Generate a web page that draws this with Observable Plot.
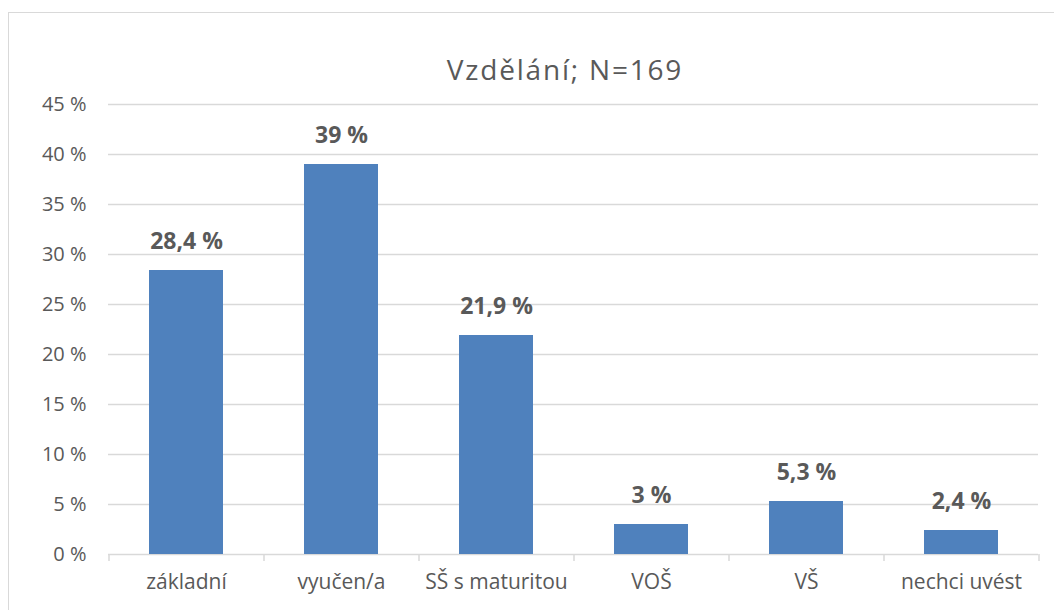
<!DOCTYPE html>
<html>
<head>
<meta charset="utf-8">
<script src="https://cdn.jsdelivr.net/npm/d3@7"></script>
<script src="https://cdn.jsdelivr.net/npm/@observablehq/plot@0.6"></script>
<style>
  html, body { margin: 0; padding: 0; background: #fff; }
  body { width: 1054px; height: 610px; position: relative; overflow: hidden; font-family: "Open Sans", Lato, sans-serif; }
  #frame { position: absolute; left: 8px; top: 12px; width: 1100px; height: 700px; border: 1.5px solid #d9d9d9; box-sizing: border-box; }
  #title { position: absolute; left: 0; width: 1130px; top: 51px; text-align: center; font-size: 28px; letter-spacing: 1.8px; color: #595959; font-family: "Open Sans", sans-serif; line-height: 36px; }
  #chart { position: absolute; left: 0; top: 0; }
</style>
</head>
<body>
<div id="frame"></div>
<div id="title">Vzdělání; N=169</div>
<div id="chart"></div>
<script>
const categories = ["základní", "vyučen/a", "SŠ s maturitou", "VOŠ", "VŠ", "nechci uvést"];
const values = [28.4, 39, 21.9, 3, 5.3, 2.4];
const yTicks = [0, 5, 10, 15, 20, 25, 30, 35, 40, 45];

const data = categories.map((c, i) => ({category: c, value: values[i]}));
const fmt = v => String(v).replace(".", ",") + " %";

const W = 1054, H = 610, mL = 108, mR = 16, mT = 104, mB = 56;
const step = (W - mL - mR) / categories.length;
const grey = "#d9d9d9", textCol = "#595959";

const plot = Plot.plot({
  width: W, height: H,
  marginLeft: mL, marginRight: mR, marginTop: mT, marginBottom: mB,
  style: {fontFamily: "'Open Sans', Lato, sans-serif", color: textCol, background: "transparent"},
  x: {domain: categories, paddingInner: 0.523, paddingOuter: 0.2615, label: null},
  y: {domain: [0, 45], label: null},
  marks: [
    Plot.ruleY(yTicks.filter(t => t > 0), {stroke: grey, strokeWidth: 1.5}),
    Plot.ruleY([0], {stroke: grey, strokeWidth: 1.5}),
    Plot.ruleX(categories, {x: d => d, dx: -step / 2, y1: 0, y2: 0, insetBottom: -7, stroke: grey, strokeWidth: 1.5}),
    Plot.ruleX(categories.slice(-1), {x: d => d, dx: step / 2, y1: 0, y2: 0, insetBottom: -7, stroke: grey, strokeWidth: 1.5}),
    Plot.axisY({ticks: yTicks, tickFormat: d => d + " %", tickSize: 0, tickPadding: 22, fontSize: 20, fill: textCol, label: null}),
    Plot.axisX({tickSize: 0, tickPadding: 20, fontSize: 21, fill: textCol, label: null}),
    Plot.barY(data, {x: "category", y: "value", fill: "#4f81bd"}),
    Plot.text(data, {x: "category", y: "value", text: d => fmt(d.value), lineAnchor: "bottom", dy: -22, fontSize: 23, fontWeight: "bold", fill: textCol})
  ]
});
document.getElementById("chart").appendChild(plot);
</script>
</body>
</html>
